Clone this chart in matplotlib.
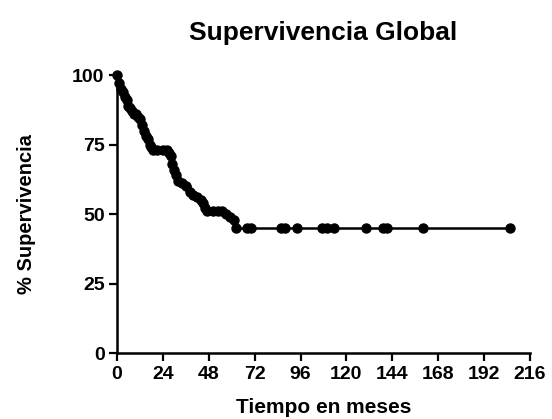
import matplotlib
matplotlib.use("Agg")
import matplotlib.pyplot as plt

# Kaplan-Meier style data (months, % survival)
months = [0, 1, 2, 3, 4, 5, 6, 7, 8, 9, 10, 11, 12, 13, 14, 15, 16, 17, 18, 19,
          21, 24, 26, 27, 28, 29, 30, 31, 32, 34, 36, 38, 40, 42, 44, 45, 46, 47,
          50, 53, 55, 57, 59, 61, 62, 68, 70, 86, 88, 94, 107, 110, 113.5, 130,
          139, 141, 160, 205.5]
survival = [100, 97, 95, 94, 92, 91, 89, 88, 87, 86, 86, 85, 84, 82, 80, 78, 77, 75, 74, 73,
            73, 73, 73, 72, 71, 68, 66, 64, 62, 61, 60, 58, 57, 56, 55, 54, 52, 51,
            51, 51, 51, 50, 49, 48, 45, 45, 45, 45, 45, 45, 45, 45, 45, 45,
            45, 45, 45, 45]
xticks = [0, 24, 48, 72, 96, 120, 144, 168, 192, 216]
yticks = [0, 25, 50, 75, 100]

plt.rcParams['font.family'] = ['Liberation Sans', 'DejaVu Sans']
plt.rcParams['font.weight'] = 'bold'

fig = plt.figure(figsize=(5.52, 4.19), dpi=100)
ax = fig.add_axes([0.212, 0.1575, 0.748, 0.6635])

ax.plot(months, survival, drawstyle='steps-post', color='black', lw=1.8,
        marker='o', ms=6.5, clip_on=False)

ax.set_xlim(0, 216)
ax.set_ylim(0, 100)
ax.set_xticks(xticks)
ax.set_yticks(yticks)
ax.tick_params(direction='out', length=6, width=1.6, labelsize=14, colors='black', pad=3)
for lab in ax.get_xticklabels() + ax.get_yticklabels():
    lab.set_fontweight('bold')
ax.spines['top'].set_visible(False)
ax.spines['right'].set_visible(False)
ax.spines['left'].set_linewidth(1.8)
ax.spines['bottom'].set_linewidth(1.8)

ax.set_title('Supervivencia Global', fontsize=19, fontweight='bold', pad=25)
ax.set_xlabel('Tiempo en meses', fontsize=15, fontweight='bold', labelpad=11)
ax.set_ylabel('% Supervivencia', fontsize=14.5, fontweight='bold', labelpad=26)

plt.savefig('out.png', dpi=100)
